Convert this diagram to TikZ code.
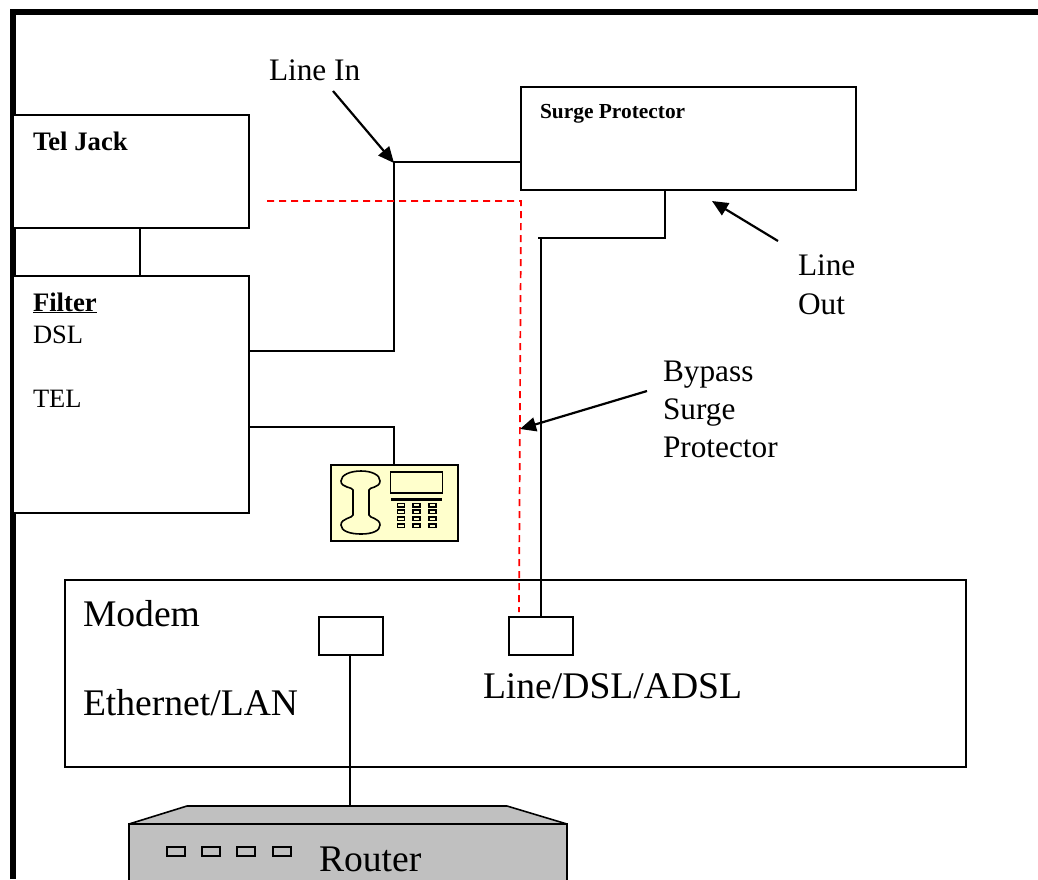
\documentclass[tikz,border=0pt]{standalone}
\usepackage{fontspec}
\setmainfont{Liberation Serif}
\usetikzlibrary{arrows.meta}
\definecolor{phonebg}{HTML}{FFFFCC}
\definecolor{routerbg}{HTML}{C0C0C0}
\tikzset{
  x=1pt,y=-1pt,
  box/.style={draw=black,fill=white,line width=1.6pt,inner sep=0pt,outer sep=0pt,anchor=north west},
  wire/.style={draw=black,line width=1.6pt},
  redwire/.style={draw=red,line width=1.7pt,dash pattern=on 7pt off 5pt},
  pointer/.style={draw=black,line width=2.2pt,-{Triangle[length=16pt,width=14pt]}},
  lbl/.style={inner sep=0pt,outer sep=0pt,anchor=base west,font=\fontsize{26.5pt}{30pt}\selectfont},
  boldlbl/.style={lbl,font=\fontsize{26.7pt}{30pt}\selectfont\bfseries},
  mid/.style={lbl,font=\fontsize{31.3pt}{36pt}\selectfont},
  big/.style={lbl,font=\fontsize{37.6pt}{42pt}\selectfont},
  small/.style={lbl,font=\fontsize{21.4pt}{25pt}\selectfont\bfseries},
  portsm/.style={draw=black,line width=1.5pt,fill=none}
}
\begin{document}
\begin{tikzpicture}
\useasboundingbox (0,0) rectangle (1038,879);
\clip (0,0) rectangle (1038,879);
\fill[white] (0,0) rectangle (1038,879);
% frame
\draw[black,line width=6pt,miter limit=10] (13,879) -- (13,12) -- (1038,12);
% boxes
\node[box,minimum width=236pt,minimum height=113pt] (jack) at (13,115) {};
\node[box,minimum width=236pt,minimum height=237pt] (filter) at (13,276) {};
\node[box,minimum width=335pt,minimum height=103pt] (surge) at (521,87) {};
\node[box,minimum width=901pt,minimum height=187pt] (modem) at (65,580) {};
\node[box,minimum width=64pt,minimum height=38pt] (lan) at (319,617) {};
\node[box,minimum width=64pt,minimum height=38pt] (dsl) at (509,617) {};
% phone
\node[box,fill=phonebg,minimum width=127pt,minimum height=76pt] (phone) at (331,465) {};
\draw[line width=1.6pt] (353,490) .. controls (353,487) and (341,488) .. (341,481)
  .. controls (341,475) and (350,471) .. (361,471)
  .. controls (372,471) and (380,475) .. (380,481)
  .. controls (380,488) and (369,487) .. (369,490)
  -- (369,515)
  .. controls (369,518) and (380,518) .. (380,525)
  .. controls (380,531) and (372,534) .. (361,534)
  .. controls (350,534) and (341,531) .. (341,525)
  .. controls (341,518) and (353,518) .. (353,515) -- cycle;
\draw[line width=1.9pt] (390.5,471.7) rectangle (442.5,493);
\fill[black] (391,497.5) rectangle (442,501);
\foreach \kx in {397.5,413,428.7}{
  \foreach \ky in {503.3,510,516.7,524}{
    \draw[line width=1.6pt,fill=phonebg] (\kx,\ky) rectangle (\kx+7,\ky+3.6);
  }
}
% router
\node[box,fill=routerbg,minimum width=438pt,minimum height=75pt] (router) at (129,824) {};
\coordinate (rtl) at (187,806);
\coordinate (rtr) at (507,806);
\filldraw[wire,fill=routerbg,line join=bevel] (router.north west) -- (rtl) -- (rtr) -- (router.north east) -- cycle;
\foreach \px in {167,202,237,273}{
  \draw[portsm] (\px,847) rectangle (\px+18,856);
}
% connectors
\draw[wire] (jack.south -| 140,0) -- (filter.north -| 140,0);
\coordinate (lineinTop) at (394,162);
\coordinate (lineinBot) at (394,351);
\draw[wire] (filter.east |- lineinBot) -- (lineinBot) -- (lineinTop) -- (surge.west |- lineinTop);
\coordinate (telBend) at (394,427);
\draw[wire] (filter.east |- telBend) -- (telBend) -- (telBend |- phone.north);
\coordinate (outA) at (665,238);
\coordinate (outB) at (538,238);
\coordinate (outC) at (541,238);
\draw[wire] (surge.south -| outA) -- (outA) -- (outB);
\draw[wire] (outC) -- (dsl.north -| outC);
\draw[wire] (lan.south -| 350,0) -- (rtl -| 350,0);
% red bypass
\coordinate (redA) at (267,201);
\coordinate (redB) at (521,201);
\coordinate (redC) at (519,612);
\draw[redwire] (redA) -- (redB) -- (redC);
% arrows
\coordinate (a1s) at (333,91); \coordinate (a1e) at (394,163);
\coordinate (a2s) at (778,241); \coordinate (a2e) at (712,201);
\coordinate (a3s) at (647,391); \coordinate (a3e) at (520,429);
\draw[pointer] (a1s) -- (a1e);
\draw[pointer] (a2s) -- (a2e);
\draw[pointer] (a3s) -- (a3e);
% labels
\node[mid] (t1) at (269,80) {Line In};
\node[boldlbl] (t2) at (33,150) {Tel Jack};
\node[small] (t3) at (540,118) {Surge Protector};
\node[boldlbl] (t4) at (33,311) {\underline{Filter}};
\node[lbl] (t5) at (33,343) {DSL};
\node[lbl] (t6) at (33,407) {TEL};
\node[mid] (t7) at (798,275) {Line};
\node[mid] (t8) at (798,314) {Out};
\node[mid] (t9) at (663,381) {Bypass};
\node[mid] (t10) at (663,419) {Surge};
\node[mid] (t11) at (663,457) {Protector};
\node[big] (t12) at (83,626) {Modem};
\node[big] (t13) at (83,715) {Ethernet/LAN};
\node[big] (t14) at (483,698) {Line/DSL/ADSL};
\node[big] (t15) at (319,871) {Router};
\end{tikzpicture}
\end{document}
